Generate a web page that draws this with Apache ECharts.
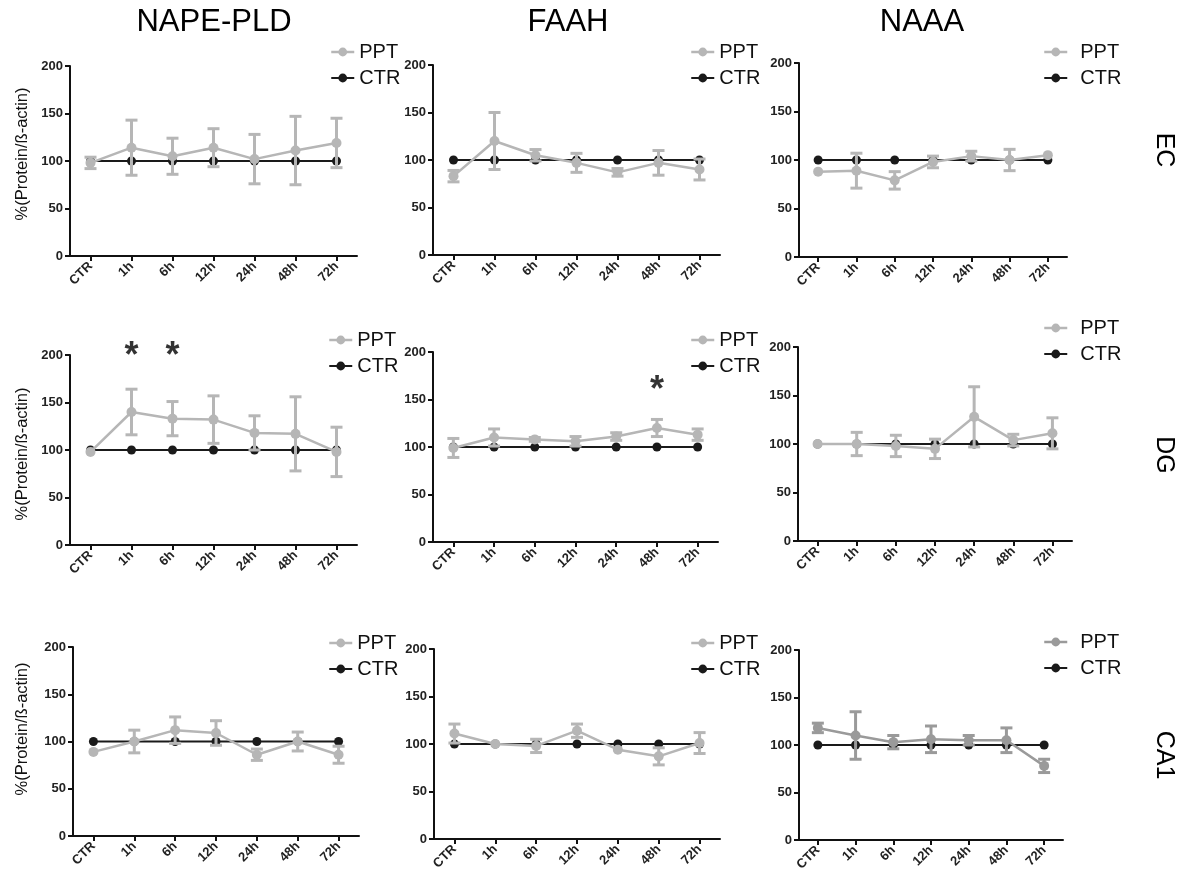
<!DOCTYPE html>
<html><head><meta charset="utf-8">
<script src="https://cdn.jsdelivr.net/npm/echarts@6/dist/echarts.min.js"></script>
<style>html,body{margin:0;padding:0;background:#fff}#c{width:1184px;height:878px}</style>
</head><body><div id="c"></div>
<script>
// ---------- data ----------
var categories = ['CTR','1h','6h','12h','24h','48h','72h'];
var ctrValues = [100,100,100,100,100,100,100];
var napeEC_mean = [98,114,105,114,102,111,119];
var napeEC_err  = [6,29,19,20,26,36,26];
var faahEC_mean = [83,120,105,97,87,97,90];
var faahEC_err  = [6,30,6,10,4,13,11];
var naaaEC_mean = [88,89,79,98,104,100,105];
var naaaEC_err  = [0,18,9,6,5,11,0];
var napeDG_mean = [98,140,133,132,118,117,98];
var napeDG_err  = [0,24,18,25,18,39,26];
var faahDG_mean = [99,110,108,106,111,120,113];
var faahDG_err  = [10,9,2,5,4,9,6];
var naaaDG_mean = [100,100,98,95,128,104,111];
var naaaDG_err  = [0,12,11,10,31,6,16];
var napeCA1_mean = [89,100,112,109,86,100,86];
var napeCA1_err  = [0,12,14,13,6,10,9];
var faahCA1_mean = [111,100,98,114,94,87,101];
var faahCA1_err  = [10,0,7,7,0,9,11];
var naaaCA1_mean = [118,110,103,106,105,105,78];
var naaaCA1_err  = [5,25,7,14,5,13,7];
var yTicks = [0,50,100,150,200];
var columnTitles = ['NAPE-PLD','FAAH','NAAA'];
var rowTitles = ['EC','DG','CA1'];
var yAxisTitle = '%(Protein/ß-actin)';
var seriesNames = ['PPT','CTR'];
var sigNapeDG = ['1h','6h'];
var sigFaahDG = ['48h'];

// ---------- layout ----------
var FONT = '"Liberation Sans", Arial, Helvetica, sans-serif';
var panels = [
  {mean: napeEC_mean, err: napeEC_err, rect:[70,66,287,190], leg:[330,42,5]},
  {mean: faahEC_mean, err: faahEC_err, rect:[433,65,287,190], leg:[690,42,5]},
  {mean: naaaEC_mean, err: naaaEC_err, rect:[799,63,268,194], leg:[1043,42,13]},
  {mean: napeDG_mean, err: napeDG_err, rect:[70,355,287,190], leg:[328,330,5]},
  {mean: faahDG_mean, err: faahDG_err, rect:[433,352,285,190], leg:[690,330,5]},
  {mean: naaaDG_mean, err: naaaDG_err, rect:[798,347,274,194], leg:[1043,318,13]},
  {mean: napeCA1_mean, err: napeCA1_err, rect:[73,647,286,189], leg:[328,633,5]},
  {mean: faahCA1_mean, err: faahCA1_err, rect:[434,649,286,190], leg:[690,633,5]},
  {mean: naaaCA1_mean, err: naaaCA1_err, rect:[799,650,264,190], leg:[1043,632,13], dark:true}
];
var PPT_COLOR = '#b6b6b6', PPT_DARK = '#9a9a9a', CTR_COLOR = '#1a1a1a', AXIS = '#111';

function errRender(color){
  return function(params, api){
    var i = api.value(0), m = api.value(1), e = api.value(2);
    if (!e) return null;
    var t = api.coord([i, m + e]), b = api.coord([i, m - e]);
    var hw = 6, st = {stroke: color, lineWidth: 3};
    return {type:'group', children:[
      {type:'line', shape:{x1:t[0], y1:t[1], x2:b[0], y2:b[1]}, style:st},
      {type:'line', shape:{x1:t[0]-hw, y1:t[1], x2:t[0]+hw, y2:t[1]}, style:st},
      {type:'line', shape:{x1:b[0]-hw, y1:b[1], x2:b[0]+hw, y2:b[1]}, style:st}
    ]};
  };
}

var grids = [], xAxes = [], yAxes = [], series = [], legends = [];
panels.forEach(function(p, k){
  var r = p.rect;
  grids.push({left:r[0], top:r[1], width:r[2], height:r[3], containLabel:false});
  xAxes.push({
    type:'category', gridIndex:k, data:categories, boundaryGap:true,
    axisLine:{show:true, lineStyle:{color:AXIS, width:2}},
    axisTick:{show:true, alignWithLabel:true, length:5, lineStyle:{color:AXIS, width:2}},
    axisLabel:{rotate:45, interval:0, margin:8, color:'#222', fontSize:13, fontWeight:'bold', fontFamily:FONT},
    splitLine:{show:false}
  });
  yAxes.push({
    type:'value', gridIndex:k, min:yTicks[0], max:yTicks[yTicks.length-1], interval:yTicks[1]-yTicks[0],
    axisLine:{show:true, lineStyle:{color:AXIS, width:2}},
    axisTick:{show:true, length:5, lineStyle:{color:AXIS, width:2}},
    axisLabel:{margin:7, color:'#222', fontSize:13, fontWeight:'bold', fontFamily:FONT},
    splitLine:{show:false}
  });
  var pc = p.dark ? PPT_DARK : PPT_COLOR;
  series.push({
    type:'line', name:seriesNames[1], xAxisIndex:k, yAxisIndex:k, data:ctrValues,
    symbol:'circle', symbolSize:9, itemStyle:{color:CTR_COLOR}, lineStyle:{color:CTR_COLOR, width:2},
    z:2, silent:true
  });
  series.push({
    type:'custom', xAxisIndex:k, yAxisIndex:k, renderItem:errRender(pc),
    data:categories.map(function(c,i){ return [i, p.mean[i], p.err[i]]; }),
    encode:{x:0, y:[1]}, z:3, silent:true
  });
  series.push({
    type:'line', name:seriesNames[0], xAxisIndex:k, yAxisIndex:k, data:p.mean,
    symbol:'circle', symbolSize:10, itemStyle:{color:pc}, lineStyle:{color:pc, width:2.5},
    z:4, silent:true
  });
  var L = p.leg;
  legends.push({
    left:L[0], top:L[1], orient:'vertical', padding:0, itemGap:6, itemWidth:23, itemHeight:11,
    selectedMode:false,
    textStyle:{fontSize:20, color:'#111', fontFamily:FONT, padding:[0,0,0,L[2]-5]},
    data:[
      {name:seriesNames[0], itemStyle:{color:pc}, lineStyle:{color:pc, width:2.5}},
      {name:seriesNames[1], itemStyle:{color:CTR_COLOR}, lineStyle:{color:CTR_COLOR, width:2}}
    ]
  });
});

function starSeries(k, cats, level){
  return {
    type:'scatter', xAxisIndex:k, yAxisIndex:k, symbolSize:1, itemStyle:{color:'rgba(0,0,0,0)'},
    data:cats.map(function(c){ return [categories.indexOf(c), level]; }),
    label:{show:true, position:'inside', formatter:'*', fontSize:36, fontWeight:'bold', color:'#000', fontFamily:FONT},
    z:5, silent:true
  };
}
series.push(starSeries(3, sigNapeDG, 198));
series.push(starSeries(4, sigFaahDG, 159));

var graphics = [];
var colCenters = [214, 568, 922];
columnTitles.forEach(function(t, i){
  graphics.push({type:'text', x:colCenters[i], y:22, style:{text:t, font:'31px ' + FONT, fill:'#000',
    align:'center', verticalAlign:'middle', textAlign:'center', textVerticalAlign:'middle'}});
});
var rowCenters = [150, 455, 755];
rowTitles.forEach(function(t, i){
  graphics.push({type:'text', x:1164, y:rowCenters[i], rotation:-Math.PI/2, style:{text:t, font:'25px ' + FONT, fill:'#000',
    align:'center', verticalAlign:'middle', textAlign:'center', textVerticalAlign:'middle'}});
});
var yTitleCenters = [154, 454, 729];
yTitleCenters.forEach(function(y){
  graphics.push({type:'text', x:22, y:y, rotation:Math.PI/2, style:{text:yAxisTitle, font:'16.5px ' + FONT, fill:'#111',
    align:'center', verticalAlign:'middle', textAlign:'center', textVerticalAlign:'middle'}});
});

var chart = echarts.init(document.getElementById('c'), null, {renderer:'canvas'});
chart.setOption({
  backgroundColor:'#fff', animation:false,
  grid:grids, xAxis:xAxes, yAxis:yAxes, series:series, legend:legends, graphic:graphics
});
</script></body></html>
